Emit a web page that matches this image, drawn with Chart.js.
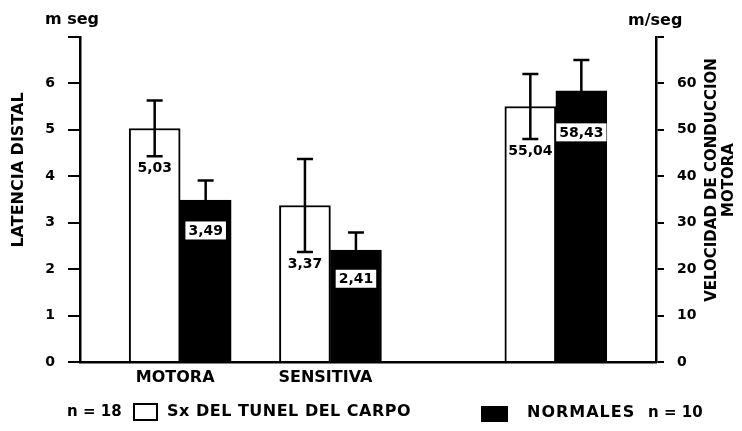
<!DOCTYPE html>
<html>
<head>
<meta charset="utf-8">
<script src="https://cdn.jsdelivr.net/npm/chart.js@4.4.0/dist/chart.umd.min.js"></script>
<style>
  html, body { margin: 0; padding: 0; background: #fff; }
  #wrap { width: 742px; height: 431px; position: relative; }
</style>
</head>
<body>
<div id="wrap"><canvas id="chart"></canvas></div>
<script>
// groups along the bottom axis (the third one is the velocity pair, unlabeled)
const groups = ['MOTORA', 'SENSITIVA', ''];

// distal latency, m seg (left axis)
const sxLatency = [5.03, 3.37];
const sxLatencyErr = [0.6, 1.0];
const normLatency = [3.49, 2.41];
const normLatencyErr = [0.42, 0.38];

// motor conduction velocity, m/seg (right axis)
const sxVelocity = [55.04];
const sxVelocityErr = [7];
const normVelocity = [58.43];
const normVelocityErr = [6.6];

// axis ticks
const latencyTicks = [0, 1, 2, 3, 4, 5, 6, 7];
const latencyTickLabels = ['0', '1', '2', '3', '4', '5', '6', ''];
const velocityTicks = [0, 10, 20, 30, 40, 50, 60, 70];
const velocityTickLabels = ['0', '10', '20', '30', '40', '50', '60', ''];

// group sizes for the legend
const sxN = 18;
const normN = 10;

// the bottom axis is split into evenly spaced slots, groups sit on some of them
const slotCount = 24;
const groupSlots = [4, 10, 19];

const FONT = 'DejaVu Sans';

function spread(values, slots) {
    const out = new Array(slotCount).fill(null);
    values.forEach((v, i) => { out[slots[i]] = v; });
    return out;
}

const labels = new Array(slotCount).fill('');
groups.forEach((g, i) => { labels[groupSlots[i]] = g; });

const latSlots = groupSlots.slice(0, 2);
const velSlots = groupSlots.slice(2);

// error bars + value labels
const errorBars = {
    id: 'errorBars',
    afterDatasetsDraw(chart) {
        const ctx = chart.ctx;
        const marks = [];
        chart.data.datasets.forEach((ds, di) => {
            const meta = chart.getDatasetMeta(di);
            const yScale = chart.scales[ds.yAxisID];
            meta.data.forEach((bar, i) => {
                const v = ds.data[i];
                if (v == null) return;
                const e = ds.errors[i];
                const top = yScale.getPixelForValue(v + e);
                const bot = yScale.getPixelForValue(v - e);
                ctx.save();
                ctx.strokeStyle = '#000';
                ctx.lineWidth = 2.5;
                ctx.beginPath();
                ctx.moveTo(bar.x, top);
                ctx.lineTo(bar.x, bot);
                ctx.moveTo(bar.x - 8, top);
                ctx.lineTo(bar.x + 8, top);
                ctx.moveTo(bar.x - 8, bot);
                ctx.lineTo(bar.x + 8, bot);
                ctx.stroke();
                ctx.restore();
                marks.push({ x: bar.x, y: bot + 11, text: v.toFixed(2).replace('.', ','), boxed: ds.backgroundColor === '#000' });
            });
        });
        ctx.save();
        ctx.font = 'bold 14px ' + FONT;
        ctx.textAlign = 'center';
        ctx.textBaseline = 'middle';
        marks.forEach(m => {
            if (m.boxed) {
                const w = ctx.measureText(m.text).width + 6;
                ctx.fillStyle = '#fff';
                ctx.fillRect(m.x - w / 2, m.y - 9, w, 18);
            }
            ctx.fillStyle = '#000';
            ctx.fillText(m.text, m.x, m.y + 1);
        });
        ctx.restore();
    }
};

// axis titles, units and the legend
const decorations = {
    id: 'decorations',
    afterDraw(chart) {
        const ctx = chart.ctx;
        ctx.save();
        ctx.fillStyle = '#000';
        ctx.strokeStyle = '#000';
        ctx.textBaseline = 'middle';

        ctx.font = 'bold 16px ' + FONT;
        ctx.textAlign = 'left';
        ctx.fillText('m seg', 45, 20);
        ctx.fillText('m/seg', 628, 21);

        // left title
        ctx.save();
        ctx.translate(19, 170);
        ctx.rotate(-Math.PI / 2);
        ctx.textAlign = 'center';
        ctx.font = 'bold 16px ' + FONT;
        ctx.fillText('LATENCIA DISTAL', 0, 0);
        ctx.restore();

        // right title, two lines
        ctx.save();
        ctx.translate(712, 180);
        ctx.rotate(-Math.PI / 2);
        ctx.textAlign = 'center';
        ctx.font = 'bold 15px ' + FONT;
        ctx.fillText('VELOCIDAD DE CONDUCCION', 0, 0);
        ctx.fillText('MOTORA', 0, 17);
        ctx.restore();

        // legend
        const ds = chart.data.datasets;
        ctx.textAlign = 'left';
        ctx.font = 'bold 15px ' + FONT;
        ctx.fillText('n = ' + sxN, 67, 412);
        ctx.lineWidth = 2;
        ctx.fillStyle = '#fff';
        ctx.fillRect(134, 404, 23, 16);
        ctx.strokeRect(134, 404, 23, 16);
        ctx.fillStyle = '#000';
        ctx.font = 'bold 16px ' + FONT;
        ctx.letterSpacing = '0.5px';
        ctx.fillText(ds[0].label, 167, 412);

        ctx.fillRect(481, 406, 27, 16);
        ctx.letterSpacing = '1px';
        ctx.fillText(ds[1].label, 527, 413);
        ctx.letterSpacing = '0px';
        ctx.font = 'bold 15px ' + FONT;
        ctx.fillText('n = ' + normN, 648, 413);
        ctx.restore();
    }
};

const barBase = {
    barThickness: 51,
    borderColor: '#000',
    borderWidth: 2,
    borderSkipped: 'bottom',
    skipNull: true
};

new Chart(document.getElementById('chart'), {
    type: 'bar',
    data: {
        labels: labels,
        datasets: [
            { ...barBase, label: 'Sx DEL TUNEL DEL CARPO', yAxisID: 'y', backgroundColor: '#fff',
              data: spread(sxLatency, latSlots), errors: spread(sxLatencyErr, latSlots) },
            { ...barBase, label: 'NORMALES', yAxisID: 'y', backgroundColor: '#000',
              data: spread(normLatency, latSlots), errors: spread(normLatencyErr, latSlots) },
            { ...barBase, label: 'Sx DEL TUNEL DEL CARPO', yAxisID: 'y1', backgroundColor: '#fff',
              data: spread(sxVelocity, velSlots), errors: spread(sxVelocityErr, velSlots) },
            { ...barBase, label: 'NORMALES', yAxisID: 'y1', backgroundColor: '#000',
              data: spread(normVelocity, velSlots), errors: spread(normVelocityErr, velSlots) }
        ]
    },
    options: {
        responsive: true,
        maintainAspectRatio: false,
        animation: false,
        layout: { padding: { top: 37, left: 0, right: 0, bottom: 0 } },
        plugins: {
            legend: { display: false },
            tooltip: { enabled: false }
        },
        scales: {
            x: {
                offset: false,
                grid: { display: false, drawTicks: false },
                border: { display: true, color: '#000', width: 2.5 },
                ticks: {
                    autoSkip: false,
                    maxRotation: 0,
                    padding: 6,
                    labelOffset: -5,
                    color: '#000',
                    font: { family: FONT, size: 16, weight: 'bold' }
                },
                afterFit(scale) { scale.height = 69; }
            },
            y: {
                position: 'left',
                min: 0,
                max: 7,
                stacked: false,
                afterBuildTicks(scale) { scale.ticks = latencyTicks.map(v => ({ value: v })); },
                grid: { drawOnChartArea: false, drawTicks: true, tickLength: 12, color: '#000', lineWidth: 2 },
                border: { display: true, color: '#000', width: 2.5 },
                ticks: {
                    padding: 13,
                    color: '#000',
                    font: { family: FONT, size: 14, weight: 'bold' },
                    callback: (v, i) => latencyTickLabels[i]
                },
                afterFit(scale) { scale.width = 80; }
            },
            y1: {
                position: 'right',
                min: 0,
                max: 70,
                stacked: false,
                afterBuildTicks(scale) { scale.ticks = velocityTicks.map(v => ({ value: v })); },
                grid: { drawOnChartArea: false, drawTicks: true, tickLength: 8, color: '#000', lineWidth: 2 },
                border: { display: true, color: '#000', width: 2.5 },
                ticks: {
                    padding: 13,
                    color: '#000',
                    font: { family: FONT, size: 14, weight: 'bold' },
                    callback: (v, i) => velocityTickLabels[i]
                },
                afterFit(scale) { scale.width = 86; }
            }
        }
    },
    plugins: [errorBars, decorations]
});
</script>
</body>
</html>
